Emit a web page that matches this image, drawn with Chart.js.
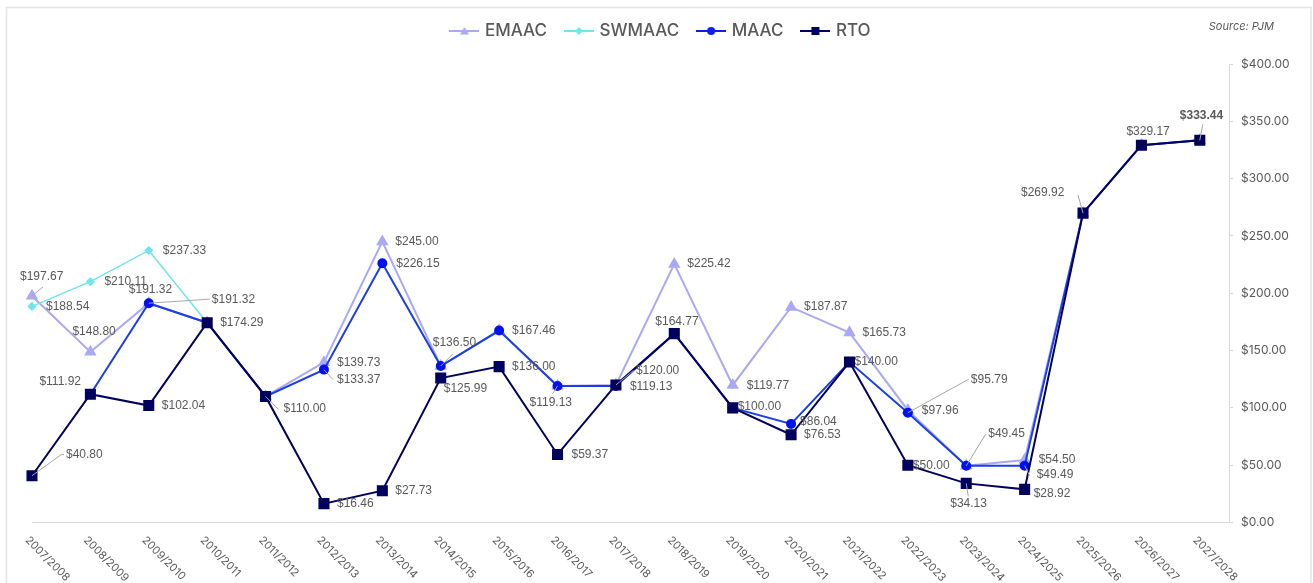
<!DOCTYPE html>
<html lang="en">
<head>
<meta charset="UTF-8">
<title>Capacity prices</title>
<style>
  html, body { margin: 0; padding: 0; background: #fff; }
  #wrap { position: relative; width: 1313px; height: 583px; }
</style>
</head>
<body>
<div id="wrap"><canvas id="myChart"></canvas></div>
<script src="https://cdn.jsdelivr.net/npm/chart.js"></script>
<script>
// delivery years
const categories = ['2007/2008', '2008/2009', '2009/2010', '2010/2011', '2011/2012', '2012/2013', '2013/2014',
  '2014/2015', '2015/2016', '2016/2017', '2017/2018', '2018/2019', '2019/2020', '2020/2021', '2021/2022',
  '2022/2023', '2023/2024', '2024/2025', '2025/2026', '2026/2027', '2027/2028'];

// $/MW-day
const emaac = [197.67, 148.80, 191.32, 174.29, 110.00, 139.73, 245.00, 136.50, 167.46, 119.13, 120.00,
  225.42, 119.77, 187.87, 165.73, 97.96, 49.45, 54.50, 269.92, 329.17, 333.44];
const swmaac = [188.54, 210.11, 237.33, 174.29];
const maac = [null, 111.92, 191.32, 174.29, 110.00, 133.37, 226.15, 136.50, 167.46, 119.13, 119.13,
  164.77, 100.00, 86.04, 140.00, 95.79, 49.45, 49.49, 269.92, 329.17, 333.44];
const rto = [40.80, 111.92, 102.04, 174.29, 110.00, 16.46, 27.73, 125.99, 136.00, 59.37, 120.00,
  164.77, 100.00, 76.53, 140.00, 50.00, 34.13, 28.92, 269.92, 329.17, 333.44];

const yTicks = [0, 50, 100, 150, 200, 250, 300, 350, 400];

// which points get a value label: [index, dx, dy, leader end (dx,dy) or null, bold]
const labelPos = {
  0: [ // EMAAC
    [0, -12, -19, [11, -9]], [1, -18, -20], [2, 63, -4, [60, -4]], [5, 13, 0], [6, 13, 0],
    [10, 20, -14, [17, -14]], [11, 13, 0], [12, 14, 0], [13, 13, 0], [14, 13, 0], [15, 14, 0], [17, 14, 0]
  ],
  1: [ // SWMAAC
    [0, 14, 0], [1, 14, 0], [2, 14, 0]
  ],
  2: [ // MAAC
    [2, -20, -14], [5, 13, 10, [9, 10]], [6, 14, 0], [7, -8, -23, [12, -12]], [8, 13, 0],
    [9, -28, 17, [-5, 8]], [10, 14, 1], [13, 9, -2], [15, 63, -33, [60, -33]], [16, 22, -32, [19, -31]],
    [17, 12, 9, [5, 10]]
  ],
  3: [ // RTO
    [0, 34, -21, [29, -21]], [1, -51, -13], [2, 13, 0], [3, 13, 0], [4, 18, 12, [13, 13]], [5, 13, 0],
    [6, 13, 0], [7, 3, 11], [8, 13, 0], [9, 14, 0], [11, -19, -12], [12, 5, -1], [13, 13, 0], [14, 5, 0],
    [15, 5, 0], [16, -16, 20, [2, 13]], [17, 9, 4], [18, -62, -20, [-5, -18]], [19, -15, -14],
    [20, -20, -25, [3, -16], true]
  ]
};

const textColor = '#595959';

function legendIcon(color, shape) {
  const c = document.createElement('canvas');
  c.width = 30;
  c.height = 14;
  const g = c.getContext('2d');
  g.strokeStyle = color;
  g.lineWidth = 2;
  g.beginPath();
  g.moveTo(0, 7);
  g.lineTo(30, 7);
  g.stroke();
  g.fillStyle = color;
  g.beginPath();
  if (shape === 'triangle') {
    g.moveTo(15, 3); g.lineTo(19.5, 10.5); g.lineTo(10.5, 10.5);
  } else if (shape === 'diamond') {
    g.moveTo(15, 3); g.lineTo(19, 7); g.lineTo(15, 11); g.lineTo(11, 7);
  } else if (shape === 'circle') {
    g.arc(15, 7, 4, 0, Math.PI * 2);
  } else {
    g.rect(11, 3, 8, 8);
  }
  g.closePath();
  g.fill();
  return c;
}

const toXY = arr => arr.map((v, i) => ({ x: i, y: v }));
const money = v => '$' + v.toFixed(2);

const legendIcons = [
  legendIcon('#a9a9f6', 'triangle'),
  legendIcon('#6fe6ee', 'diamond'),
  legendIcon('#0a1fe8', 'circle'),
  legendIcon('#00005e', 'rect')
];

// extra room between legend and plot
const legendSpacer = {
  id: 'legendSpacer',
  afterInit(chart) {
    const lg = chart.legend;
    const fit = lg.fit;
    lg.fit = function () {
      fit.call(this);
      this.height += 14.5;
    };
  }
};

// frame, rotated year labels, value labels, source note
const decorations = {
  id: 'decorations',
  beforeDraw(chart) {
    const ctx = chart.ctx;
    ctx.save();
    ctx.strokeStyle = '#e4e4e4';
    ctx.lineWidth = 1.5;
    ctx.strokeRect(6.5, 7.5, 1304.5, 600);
    ctx.restore();
  },
  afterDatasetsDraw(chart) {
    const ctx = chart.ctx;
    const xs = chart.scales.x;
    const ys = chart.scales.y;
    ctx.save();
    ctx.textAlign = 'left';
    ctx.textBaseline = 'middle';
    Object.keys(labelPos).forEach(k => {
      const data = chart.data.datasets[k].data;
      labelPos[k].forEach(([i, dx, dy, lead, bold]) => {
        const v = data[i].y;
        const px = xs.getPixelForValue(i);
        const py = ys.getPixelForValue(v);
        if (lead) {
          ctx.strokeStyle = '#a6a6a6';
          ctx.lineWidth = 1;
          ctx.beginPath();
          ctx.moveTo(px, py);
          ctx.lineTo(px + lead[0], py + lead[1]);
          if (Math.abs(lead[0]) > 15) ctx.lineTo(px + dx - 2, py + lead[1]);
          ctx.stroke();
        }
        ctx.font = (bold ? 'bold ' : '') + '12px "Liberation Sans", Arial, sans-serif';
        ctx.fillStyle = textColor;
        ctx.fillText(money(v), px + dx, py + dy);
      });
    });
    ctx.restore();
  },
  afterDraw(chart) {
    const ctx = chart.ctx;
    const xs = chart.scales.x;
    ctx.save();
    ctx.fillStyle = textColor;
    ctx.font = '11px Inter, sans-serif';
    ctx.textAlign = 'left';
    ctx.textBaseline = 'middle';
    categories.forEach((c, i) => {
      const px = xs.getPixelForValue(i);
      ctx.save();
      ctx.translate(px - 5, xs.top + 16);
      ctx.rotate(Math.PI / 4);
      ctx.fillText(c, 0, 0);
      ctx.restore();
    });
    ctx.font = 'italic 11px Inter, sans-serif';
    ctx.textAlign = 'right';
    ctx.fillText('Source: PJM', 1274, 27);
    ctx.restore();
  }
};

const ctx = document.getElementById('myChart').getContext('2d');
const chart = new Chart(ctx, {
  type: 'line',
  data: {
    datasets: [{
      label: 'EMAAC',
      data: toXY(emaac),
      xAxisID: 'x',
      yAxisID: 'y',
      borderColor: '#a9a9f6',
      backgroundColor: '#a9a9f6',
      borderWidth: 2,
      pointStyle: 'triangle',
      pointRadius: 5.2,
      order: 3
    }, {
      label: 'SWMAAC',
      data: toXY(swmaac),
      xAxisID: 'x',
      yAxisID: 'y',
      borderColor: '#6fe6ee',
      backgroundColor: '#6fe6ee',
      borderWidth: 1.5,
      pointStyle: 'rectRot',
      pointRadius: 3.5,
      order: 2
    }, {
      label: 'MAAC',
      data: toXY(maac),
      xAxisID: 'x',
      yAxisID: 'y',
      borderColor: '#1a3fe6',
      backgroundColor: '#0012ee',
      pointBorderColor: '#0012ee',
      borderWidth: 2,
      pointStyle: 'circle',
      pointRadius: 4,
      order: 1
    }, {
      label: 'RTO',
      data: toXY(rto),
      xAxisID: 'x',
      yAxisID: 'y',
      borderColor: '#00005e',
      backgroundColor: '#00005e',
      borderWidth: 2,
      pointStyle: 'rect',
      pointRadius: 6.4,
      order: 0
    }]
  },
  options: {
    responsive: true,
    maintainAspectRatio: false,
    animation: false,
    devicePixelRatio: 1,
    clip: false,
    layout: { padding: { top: 2.5, left: 10, right: 0, bottom: 60.5 } },
    scales: {
      x: {
        type: 'linear',
        min: 0,
        max: 20.5,
        grid: { display: false, drawTicks: false },
        ticks: { display: false },
        border: { display: true, color: '#d9d9d9', width: 1 }
      },
      pad: {
        type: 'linear',
        position: 'left',
        min: 0,
        max: 1,
        grid: { display: false, drawTicks: false },
        ticks: { display: false },
        border: { display: false },
        afterFit: s => { s.width = 22; }
      },
      y: {
        position: 'right',
        min: 0,
        max: 400,
        afterBuildTicks: s => { s.ticks = yTicks.map(v => ({ value: v })); },
        ticks: {
          color: textColor,
          padding: 8,
          font: { family: 'Inter', size: 12 },
          callback: v => money(v)
        },
        grid: { drawOnChartArea: false, drawTicks: true, tickLength: 4, color: '#d9d9d9' },
        border: { display: true, color: '#d9d9d9' },
        afterFit: s => { s.width = 84; }
      }
    },
    plugins: {
      tooltip: { enabled: false },
      legend: {
        position: 'top',
        align: 'center',
        labels: {
          usePointStyle: true,
          pointStyleWidth: 24,
          padding: 20,
          color: textColor,
          font: { family: 'Inter', size: 17, weight: '500' },
          generateLabels: ch => ch.data.datasets.map((ds, i) => ({
            text: ds.label,
            pointStyle: legendIcons[i],
            fontColor: textColor,
            lineWidth: 0,
            strokeStyle: 'transparent',
            fillStyle: 'transparent',
            hidden: false,
            datasetIndex: i
          }))
        }
      }
    }
  },
  plugins: [legendSpacer, decorations]
});
</script>
</body>
</html>
